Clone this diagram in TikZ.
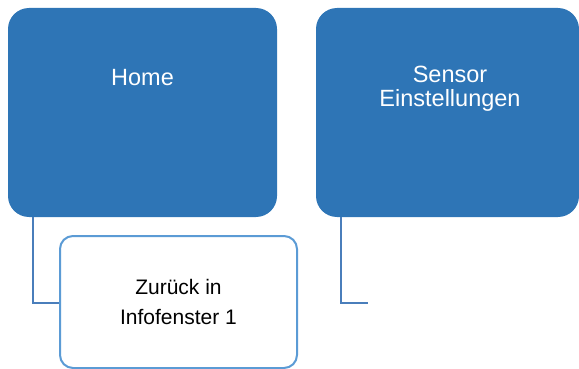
\documentclass[tikz,border=0pt]{standalone}
\usepackage{fontspec}
\setmainfont{Liberation Sans}
\usetikzlibrary{calc}
\definecolor{boxblue}{RGB}{46,117,182}
\definecolor{linkblue}{RGB}{74,126,187}
\definecolor{edgeblue}{RGB}{91,155,213}
\tikzset{
  bigbox/.style={fill=boxblue, draw=none, rounded corners=21pt, inner sep=0pt},
  bigtext/.style={text=white, font=\fontsize{23.5}{24}\selectfont, align=center, inner sep=0pt},
  subbox/.style={fill=white, draw=edgeblue, line width=2pt, rounded corners=13pt, inner sep=0pt,
    font=\fontsize{21}{30}\selectfont, align=center},
  link/.style={draw=linkblue, line width=2pt}
}
\begin{document}
\begin{tikzpicture}[x=1pt,y=-1pt]
\useasboundingbox (0,0) rectangle (579,369);
\node[bigbox, minimum width=269pt, minimum height=209pt] (home) at (142.5,112.5) {};
\node[bigbox, minimum width=263pt, minimum height=209pt] (sensor) at (447.5,112.5) {};
\node[bigtext, anchor=base] (homelbl) at (142.5,85) {Home};
\node[bigtext, anchor=north] (sensorlbl) at (450,66) {Sensor\\Einstellungen};
\coordinate (sensorend) at (368,303);
\draw[link] ($(home.south west)+(25,0)$) |- (60,303);
\draw[link] ($(sensor.south west)+(25,0)$) |- (sensorend);
\node[subbox, minimum width=237pt, minimum height=132pt] (zur) at (178.5,302) {Zurück in\\Infofenster 1};
\end{tikzpicture}
\end{document}
